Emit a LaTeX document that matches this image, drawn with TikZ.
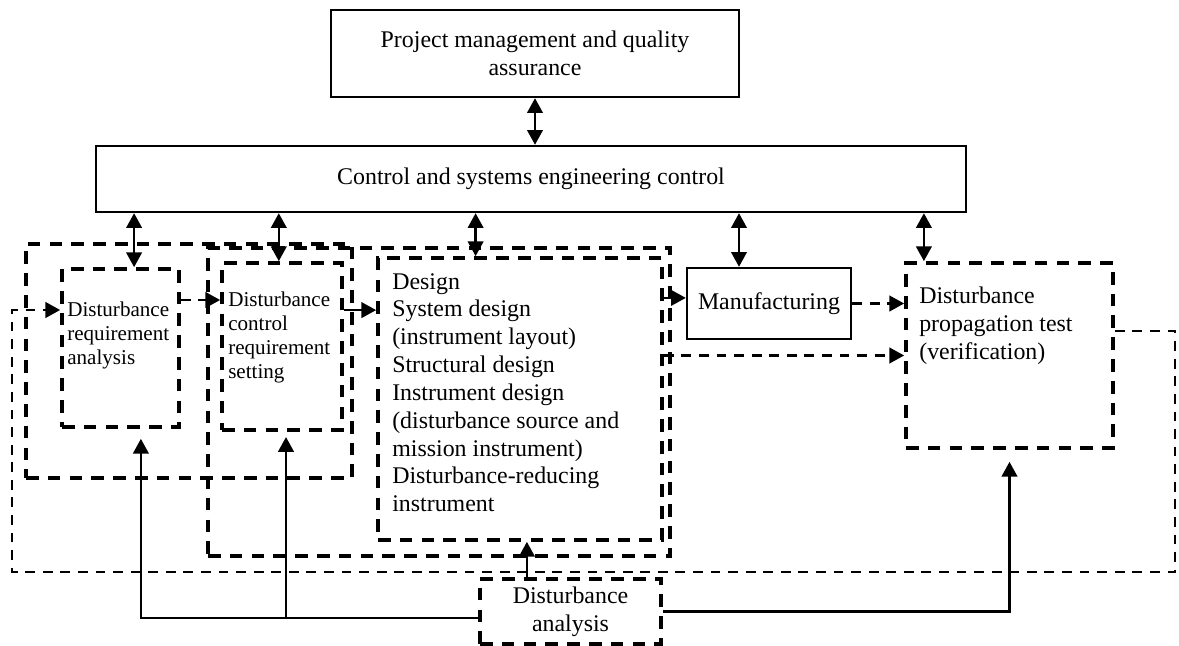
\documentclass[tikz,border=0pt]{standalone}
\usepackage{fontspec}
\setmainfont{Liberation Serif}
\usepackage{tikz}
\usetikzlibrary{arrows.meta}

\begin{document}
\begin{tikzpicture}[
    >={Triangle[length=10.5pt,width=11pt]},
    bigfont/.style={font=\fontsize{17}{19.8}\selectfont},
    smallfont/.style={font=\fontsize{15}{17}\selectfont},
    solidbox/.style={draw, line width=1.7pt, inner sep=0pt, bigfont, align=center},
    dashbox/.style={draw, line width=2.6pt, dash pattern=on 9pt off 6.5pt, inner sep=0pt},
    boxtext/.style={align=left, inner sep=0pt, anchor=north west},
    conn/.style={->, line width=1.8pt},
    dbl/.style={<->, line width=1.8pt},
    flow/.style={->, line width=1.9pt, dash pattern=on 7pt off 5.5pt}
]
                    \useasboundingbox (0,0) rectangle (29.475,-16.15);

                    \node[solidbox, minimum width=10.2cm, minimum height=2.175cm] (pm) at (13.375,-1.3375) {Project management and quality\\assurance};
                    \node[solidbox, minimum width=21.75cm, minimum height=1.65cm] (ctrl) at (13.275,-4.475) {Control and systems engineering control};

                    % grouping frames
                    \node[dashbox, minimum width=8.15cm, minimum height=5.85cm] (anagroup) at (4.725,-9.025) {};
                    \node[dashbox, minimum width=11.55cm, minimum height=7.7cm] (dsngroup) at (10.975,-10.05) {};

                    \node[dashbox, minimum width=2.925cm, minimum height=3.95cm] (dra) at (3.0125,-8.7) {};
                    \node[boxtext, smallfont] at (1.675,-7.55) {Disturbance\\requirement\\analysis};

                    \node[dashbox, minimum width=3cm, minimum height=4.175cm] (dcrs) at (7.05,-8.6625) {};
                    \node[boxtext, smallfont] at (5.7,-7.3) {Disturbance\\control\\requirement\\setting};

                    \node[dashbox, minimum width=7.1cm, minimum height=7.05cm] (design) at (13,-9.975) {};
                    \node[boxtext, bigfont] at (9.8,-6.825) {Design\\System design\\(instrument layout)\\Structural design\\Instrument design\\(disturbance source and\\mission instrument)\\Disturbance-reducing\\instrument};

                    \node[solidbox, minimum width=4.1cm, minimum height=1.775cm] (manuf) at (19.225,-7.5875) {Manufacturing};

                    \node[dashbox, minimum width=5.175cm, minimum height=4.625cm] (test) at (25.2375,-8.8875) {};
                    \node[boxtext, bigfont] at (22.975,-7.175) {Disturbance\\propagation test\\(verification)};

                    \node[dashbox, bigfont, align=center, minimum width=4.525cm, minimum height=1.625cm] (da) at (14.2625,-15.2875) {Disturbance\\analysis};

                    % links to the control box
                    \draw[dbl] (pm.south) -- (pm.south |- ctrl.north);
                    \foreach \n/\dx in {dra/3.4mm, dcrs/-0.8mm, design/-11.1mm, manuf/-7.5mm, test/-21.4mm}
                        \draw[dbl] ([xshift=\dx]\n.north) -- ([xshift=\dx]\n.north |- ctrl.south);

                    % work flow
                    \draw[flow] ([yshift=12mm]dra.east) -- ([yshift=12mm]dra.east -| dcrs.west);
                    \draw[conn] ([yshift=9.1mm]dcrs.east) -- ([yshift=9.1mm]dcrs.east -| design.west);
                    \draw[conn] ([yshift=1.4mm]manuf.west -| design.east) -- ([yshift=1.4mm]manuf.west);
                    \draw[flow] (manuf.east) -- (manuf.east -| test.west);
                    \draw[flow] (test.west -| design.east) -- (test.west);

                    % feedback loop
                    \coordinate (loopR) at (29.375,-14.3);
                    \coordinate (loopL) at (0.3,-14.3);
                    \draw[flow] ([yshift=6.1mm]test.east) -| (loopR) -- (loopL) |- ([yshift=9.5mm]dra.west);

                    % disturbance analysis feeds
                    \coordinate (daL) at ([yshift=-1.6mm]da.west);
                    \draw[conn] (daL) -| ([xshift=5.1mm,yshift=-2.5mm]dra.south);
                    \draw[conn] ([xshift=1mm]dcrs.south |- daL) -- ([xshift=1mm,yshift=-1.3mm]dcrs.south);
                    \draw[conn] ([xshift=-10.9mm]da.north) -- ([xshift=-10.9mm]da.north |- design.south);
                    \draw[conn] (da.east) -| ([yshift=-3mm]test.south);
\end{tikzpicture}
\end{document}
